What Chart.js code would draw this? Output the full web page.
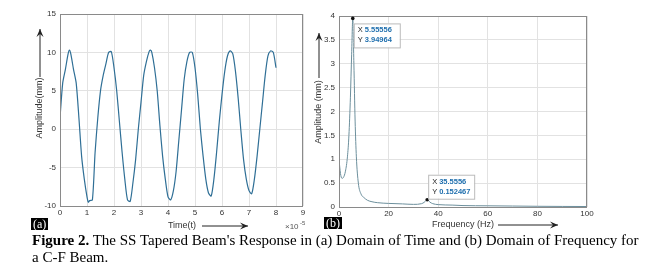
<!DOCTYPE html>
<html>
<head>
<meta charset="utf-8">
<script src="https://cdn.jsdelivr.net/npm/chart.js@4"></script>
<style>
  html, body { margin: 0; padding: 0; background: #fff; }
  body { width: 664px; height: 267px; position: relative; overflow: hidden; }
  .box { position: absolute; top: 0; height: 235px; }
  .tag { position: absolute; background: #000; color: #fff; font: 12px "Liberation Serif", serif;
         line-height: 12px; padding: 0 2px; }
  #caption { position: absolute; left: 32px; top: 232px; width: 612px;
             font: 15px "Liberation Serif", serif; line-height: 17px; color: #000; }
</style>
</head>
<body>
<div class="box" style="left:0;width:320px"><canvas id="timeChart"></canvas></div>
<div class="box" style="left:300px;width:300px"><canvas id="freqChart"></canvas></div>
<div class="tag" style="left:31px;top:218px">(a)</div>
<div class="tag" style="left:324px;top:217px">(b)</div>
<div id="caption"><b>Figure 2.</b> The SS Tapered Beam's Response in (a) Domain of Time and (b) Domain of Frequency for a C-F Beam.</div>
<script>
// time response (x in units of 1e-5 s)
const timeX = [0, 0.1, 0.2, 0.3, 0.35, 0.4, 0.5, 0.6, 0.7, 0.8, 0.9, 1.0, 1.05, 1.1, 1.2, 1.3, 1.4, 1.5, 1.6, 1.7, 1.8, 1.9, 2.0,
               2.1, 2.2, 2.3, 2.4, 2.5, 2.6, 2.7, 2.8, 2.9, 3.0, 3.1, 3.2, 3.3, 3.35, 3.4, 3.5, 3.6, 3.7, 3.8, 3.9, 4.0,
               4.1, 4.2, 4.3, 4.4, 4.5, 4.6, 4.7, 4.8, 4.9, 5.0, 5.1, 5.2, 5.3, 5.4, 5.5, 5.6, 5.7, 5.8, 5.9, 6.0,
               6.1, 6.2, 6.3, 6.4, 6.5, 6.6, 6.7, 6.8, 6.9, 7.0, 7.1, 7.2, 7.3, 7.4, 7.5, 7.6, 7.7, 7.8, 7.9, 8.0];
const timeAmp = [1.5, 6.0, 7.8, 9.8, 10.3, 9.8, 7.8, 6.0, 1.5, -3.5, -6.5, -8.8, -9.5, -9.3, -9.2, -3.0, 1.5, 5.0, 7.0, 8.5, 10.0, 10.1, 8.0,
                 5.0, 1.0, -3.0, -6.5, -9.2, -9.4, -7.0, -4.0, 0.0, 3.5, 7.0, 8.8, 10.1, 10.3, 10.0, 8.0, 5.0, 0.5, -3.5, -6.5, -8.8,
                 -9.2, -8.0, -5.5, -1.5, 2.5, 6.5, 8.8, 10.0, 10.0, 8.0, 4.5, 0.0, -3.5, -6.5, -8.3, -8.7, -6.5, -3.0, 1.0, 4.5,
                 7.5, 9.5, 10.2, 9.8, 7.5, 4.0, -0.2, -4.0, -6.5, -8.0, -8.4, -6.5, -3.5, 0.0, 3.5, 7.0, 9.5, 10.2, 10.0, 8.0];
const timeTicksX = [0, 1, 2, 3, 4, 5, 6, 7, 8, 9];
const timeTicksY = [-10, -5, 0, 5, 10, 15];

// frequency response
const freqHz = [0, 0.6, 1.2, 1.8, 2.6, 3.4, 4.0, 4.6, 5.1, 5.56, 6.0, 6.5, 7.0, 7.8, 8.9, 10, 11.5, 13.3, 15.6, 20, 25.6, 30,
                33.3, 34.4, 35.56, 36.7, 37.8, 40, 45.6, 50, 60, 70, 80, 90, 100];
const freqAmp = [1.0, 0.7, 0.6, 0.62, 0.75, 1.05, 1.5, 2.3, 3.2, 3.95, 3.0, 1.8, 1.05, 0.5, 0.27, 0.2, 0.14, 0.11, 0.09, 0.075, 0.065, 0.055,
                 0.07, 0.1, 0.152, 0.1, 0.07, 0.05, 0.04, 0.03, 0.025, 0.02, 0.015, 0.012, 0.01];
const freqTicksX = [0, 20, 40, 60, 80, 100];
const freqTicksY = [0, 0.5, 1, 1.5, 2, 2.5, 3, 3.5, 4];
const freqTips = [{ x: 5.55556, y: 3.94964, below: true }, { x: 35.5556, y: 0.152467, below: false }];

const tickFont = { family: "Liberation Sans", size: 8 };
const tickColor = "#333";
const gridColor = "#e2e2e2";

function arrow(ctx, x1, y1, x2, y2) {
    ctx.save();
    ctx.strokeStyle = "#222";
    ctx.fillStyle = "#222";
    ctx.lineWidth = 1;
    ctx.beginPath();
    ctx.moveTo(x1, y1);
    ctx.lineTo(x2, y2);
    ctx.stroke();
    const a = Math.atan2(y2 - y1, x2 - x1);
    ctx.beginPath();
    ctx.moveTo(x2, y2);
    ctx.lineTo(x2 - 8 * Math.cos(a) + 3.5 * Math.sin(a), y2 - 8 * Math.sin(a) - 3.5 * Math.cos(a));
    ctx.lineTo(x2 - 5 * Math.cos(a), y2 - 5 * Math.sin(a));
    ctx.lineTo(x2 - 8 * Math.cos(a) - 3.5 * Math.sin(a), y2 - 8 * Math.sin(a) + 3.5 * Math.cos(a));
    ctx.closePath();
    ctx.fill();
    ctx.restore();
}

// frame + axis titles with arrows (matlab look)
function decorPlugin(opts) {
    return {
        id: "decor",
        afterDraw(chart) {
            const ctx = chart.ctx, a = chart.chartArea;
            ctx.save();
            ctx.strokeStyle = "#8a8a8a";
            ctx.lineWidth = 1;
            ctx.strokeRect(a.left + 0.5, a.top + 0.5, a.right - a.left - 1, a.bottom - a.top);
            ctx.fillStyle = "#333";
            ctx.font = "9px 'Liberation Sans'";
            ctx.textAlign = "center";
            ctx.textBaseline = "middle";
            // y title
            ctx.save();
            ctx.translate(opts.yTitleX, opts.yTitleY);
            ctx.rotate(-Math.PI / 2);
            ctx.fillText(opts.yTitle, 0, 0);
            ctx.restore();
            arrow(ctx, opts.yTitleX, opts.yArrow[0], opts.yTitleX, opts.yArrow[1]);
            // x title
            ctx.fillText(opts.xTitle, opts.xTitleX, opts.xTitleY);
            arrow(ctx, opts.xArrow[0], opts.xTitleY, opts.xArrow[1], opts.xTitleY);
            if (opts.exp) {
                ctx.font = "8px 'Liberation Sans'";
                ctx.textAlign = "left";
                ctx.fillStyle = "#555";
                ctx.fillText("\u00d710", opts.exp[0], opts.exp[1]);
                ctx.font = "6px 'Liberation Sans'";
                ctx.fillText("-5", opts.exp[0] + 15, opts.exp[1] - 4);
            }
            // data tips
            (opts.tips || []).forEach(t => {
                const px = chart.scales.x.getPixelForValue(t.x);
                const py = chart.scales.y.getPixelForValue(t.y);
                ctx.fillStyle = "#111";
                ctx.beginPath();
                ctx.arc(px, py, 1.8, 0, Math.PI * 2);
                ctx.fill();
                const bx = px + 1, by = t.below ? py + 5 : py - 25;
                ctx.fillStyle = "rgba(255,255,255,0.95)";
                ctx.strokeStyle = "#bbb";
                ctx.fillRect(bx, by, 46, 24);
                ctx.strokeRect(bx + 0.5, by + 0.5, 46, 24);
                ctx.textAlign = "left";
                ctx.font = "7.5px 'Liberation Sans'";
                ctx.fillStyle = "#222";
                ctx.fillText("X", bx + 4, by + 7);
                ctx.fillText("Y", bx + 4, by + 17);
                ctx.font = "bold 7.5px 'Liberation Sans'";
                ctx.fillStyle = "#1f6fae";
                ctx.fillText(String(t.x), bx + 11, by + 7);
                ctx.fillText(String(t.y), bx + 11, by + 17);
            });
            ctx.restore();
        }
    };
}

function axes(xMin, xMax, xTicks, yMin, yMax, yTicks, yWidth, xHeight) {
    return {
        x: {
            type: "linear", min: xMin, max: xMax,
            afterBuildTicks: s => { s.ticks = xTicks.map(v => ({ value: v })); },
            afterFit: s => { s.height = xHeight; },
            grid: { color: gridColor, drawTicks: false },
            border: { display: false },
            ticks: { font: tickFont, color: tickColor, padding: 2, maxRotation: 0, callback: v => String(v) }
        },
        y: {
            type: "linear", min: yMin, max: yMax,
            afterBuildTicks: s => { s.ticks = yTicks.map(v => ({ value: v })); },
            afterFit: s => { s.width = yWidth; },
            grid: { color: gridColor, drawTicks: false },
            border: { display: false },
            ticks: { font: tickFont, color: tickColor, padding: 4, callback: v => String(v) }
        }
    };
}

new Chart(document.getElementById("timeChart"), {
    type: "line",
    data: {
        datasets: [{
            data: timeX.map((x, i) => ({ x: x, y: timeAmp[i] })),
            borderColor: "#2f6f96",
            borderWidth: 1.2,
            pointRadius: 0,
            tension: 0.25
        }]
    },
    options: {
        responsive: true,
        maintainAspectRatio: false,
        animation: false,
        layout: { padding: { left: 0, top: 14, right: 17, bottom: 0 } },
        plugins: { legend: { display: false }, tooltip: { enabled: false } },
        scales: axes(0, 9, timeTicksX, -10, 15, timeTicksY, 60, 29)
    },
    plugins: [decorPlugin({
        yTitle: "Amplitude(mm)", yTitleX: 40, yTitleY: 108, yArrow: [77, 29],
        xTitle: "Time(t)", xTitleX: 182, xTitleY: 226, xArrow: [202, 248],
        exp: [285, 227]
    })]
});

new Chart(document.getElementById("freqChart"), {
    type: "line",
    data: {
        datasets: [{
            data: freqHz.map((x, i) => ({ x: x, y: freqAmp[i] })),
            borderColor: "#6c8f9c",
            borderWidth: 1,
            pointRadius: 0,
            cubicInterpolationMode: "monotone"
        }]
    },
    options: {
        responsive: true,
        maintainAspectRatio: false,
        animation: false,
        layout: { padding: { left: 0, top: 16, right: 13, bottom: 0 } },
        plugins: { legend: { display: false }, tooltip: { enabled: false } },
        scales: axes(0, 100, freqTicksX, 0, 4, freqTicksY, 39, 28)
    },
    plugins: [decorPlugin({
        yTitle: "Amplitude (mm)", yTitleX: 19, yTitleY: 112, yArrow: [78, 33],
        xTitle: "Frequency (Hz)", xTitleX: 163, xTitleY: 225, xArrow: [198, 258],
        tips: freqTips
    })]
});
</script>
</body>
</html>
